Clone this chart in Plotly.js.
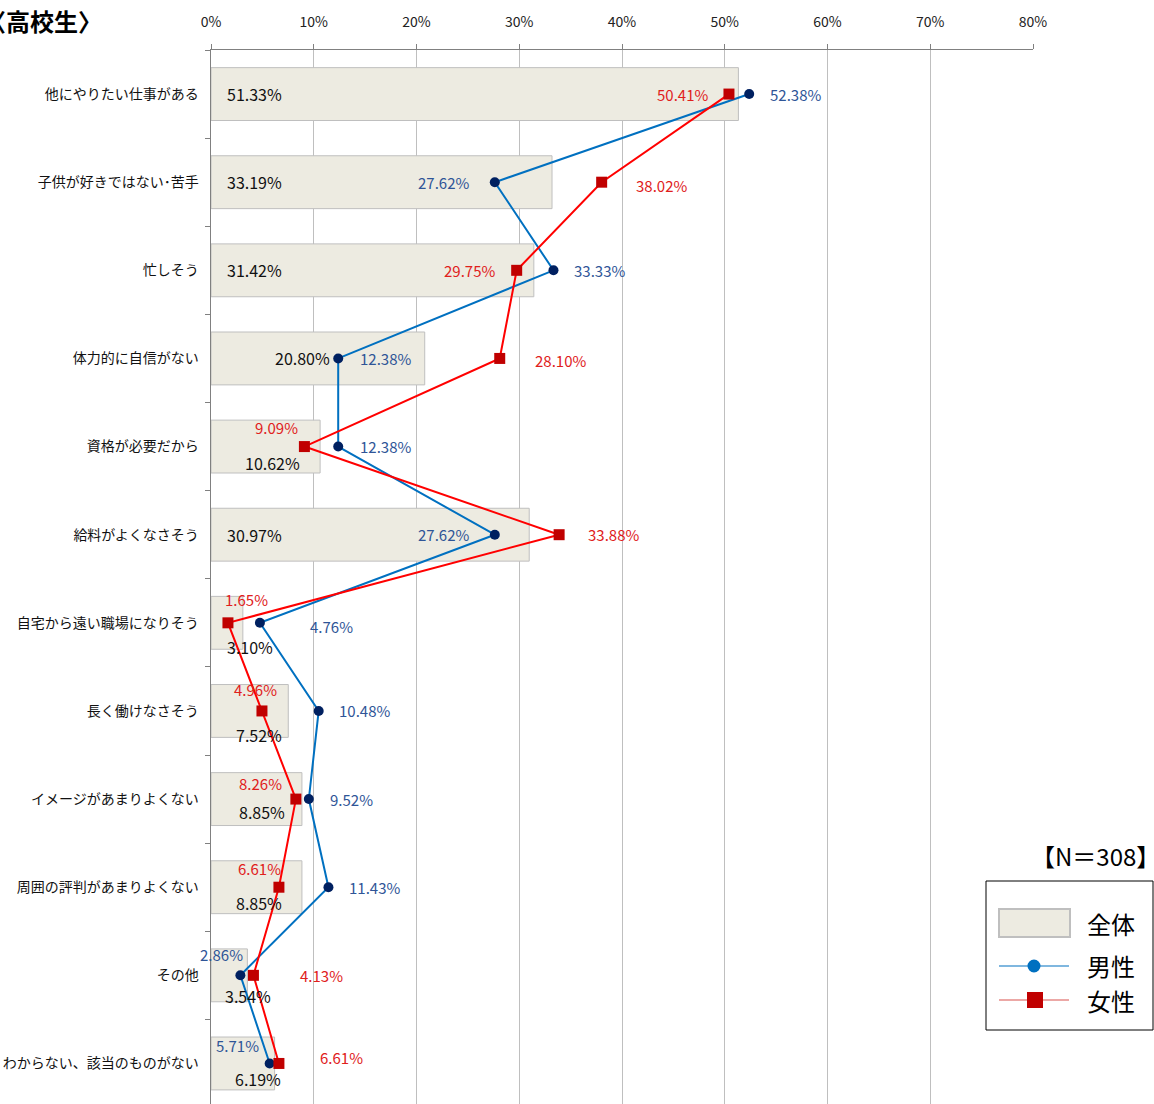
<!DOCTYPE html>
<html><head><meta charset="utf-8">
<script src="https://cdn.plot.ly/plotly-3.0.1.min.js"></script>
<style>html,body{margin:0;padding:0;background:#fff}#chart{width:1154px;height:1104px}</style>
</head><body><div id="chart"></div>
<script>
const categories = ["他にやりたい仕事がある","子供が好きではない･苦手","忙しそう","体力的に自信がない","資格が必要だから","給料がよくなさそう","自宅から遠い職場になりそう","長く働けなさそう","イメージがあまりよくない","周囲の評判があまりよくない","その他","わからない、該当のものがない"];
const totalValues = [51.33,33.19,31.42,20.80,10.62,30.97,3.10,7.52,8.85,8.85,3.54,6.19];
const maleValues  = [52.38,27.62,33.33,12.38,12.38,27.62,4.76,10.48,9.52,11.43,2.86,5.71];
const femaleValues= [50.41,38.02,29.75,28.10,9.09,33.88,1.65,4.96,8.26,6.61,4.13,6.61];
const xTicks = [0,10,20,30,40,50,60,70,80];
const xTickText = xTicks.map(v => v + "%");

// label placement (pixels): [mode, anchor, dx, dy] / [anchor, dx, dy]
const totalLabelPos = [["base","left",14,0],["base","left",14,0],["base","left",14,0],["base","center",91,0],["base","center",61,-16],["base","left",14,0],["base","center",39,-24],["base","center",48,-24],["base","center",51,-13],["base","center",48,-16],["base","center",37,-21],["base","center",47,-16]];
const maleLabelPos = [["left",19,0],["right",-24,0],["left",19,0],["left",20,0],["left",20,0],["right",-24,0],["left",48,-4],["left",18,0],["left",19,0],["left",19,0],["center",-19,21],["center",-32,18]];
const femaleLabelPos = [["right",-19,0],["left",32,-3],["right",-20,0],["left",33,-2],["center",-28,19],["left",27,0],["center",19,23],["center",-6,21],["center",-35,16],["center",-19,19],["left",45,0],["left",39,6]];

const FONT = "Noto Sans CJK JP, Noto Sans, sans-serif";
const fmt = v => v.toFixed(2) + "%";

const traces = [
  {type:"bar", orientation:"h", x: totalValues, y: categories, width:0.6,
   marker:{color:"#EDEBE1", line:{color:"#BFBFBF", width:1}}, name:"全体", hoverinfo:"x+y"},
  {type:"scatter", mode:"lines+markers", x: maleValues, y: categories, name:"男性",
   line:{color:"#0070C0", width:2}, marker:{symbol:"circle", size:10, color:"#002060"}},
  {type:"scatter", mode:"lines+markers", x: femaleValues, y: categories, name:"女性",
   line:{color:"#FF0000", width:2}, marker:{symbol:"square", size:11, color:"#C00000"}}
];

const annotations = [];
categories.forEach((c,i) => {
  const t = totalLabelPos[i];
  annotations.push({x: t[0]==="base"?0:totalValues[i], y:c, xref:"x", yref:"y", text: fmt(totalValues[i]),
    showarrow:false, xanchor:t[1], xshift:t[2], yshift:t[3], font:{family:FONT, size:16, color:"#111"}});
  const m = maleLabelPos[i];
  annotations.push({x: maleValues[i], y:c, xref:"x", yref:"y", text: fmt(maleValues[i]),
    showarrow:false, xanchor:m[0], xshift:m[1], yshift:m[2], font:{family:FONT, size:15, color:"#2F5597"}});
  const f = femaleLabelPos[i];
  annotations.push({x: femaleValues[i], y:c, xref:"x", yref:"y", text: fmt(femaleValues[i]),
    showarrow:false, xanchor:f[0], xshift:f[1], yshift:f[2], font:{family:FONT, size:15, color:"#E0201B"}});
});

// pixel -> paper helpers for layout decorations
const L = 211, R = 1033, T = 50, B = 1104;
const px = x => (x - L) / (R - L);
const py = y => (B - y) / (B - T);

annotations.push({xref:"paper", yref:"paper", x: px(104), y: py(21), xanchor:"right", yanchor:"middle",
  text:"〈高校生〉", showarrow:false, font:{family:FONT, size:24, color:"#000", weight:700}});
annotations.push({xref:"paper", yref:"paper", x: px(1161), y: py(855), xanchor:"right", yanchor:"middle",
  text:"【N＝308】", showarrow:false, borderpad:0, font:{family:FONT, size:24, color:"#000"}});
// legend texts
[["全体",923],["男性",965],["女性",1000]].forEach(([t,y]) => {
  annotations.push({xref:"paper", yref:"paper", x: px(1085), y: py(y), xanchor:"left", yanchor:"middle",
    text:t, showarrow:false, font:{family:FONT, size:24, color:"#000"}});
});

const shapes = [
  {type:"rect", xref:"paper", yref:"paper", x0:px(986), x1:px(1153), y0:py(881), y1:py(1030),
   line:{color:"#000", width:1}, fillcolor:"#fff", layer:"above"},
  {type:"rect", xref:"paper", yref:"paper", x0:px(999), x1:px(1070), y0:py(909), y1:py(937),
   line:{color:"#BFBFBF", width:2}, fillcolor:"#EDEBE1", layer:"above"},
  {type:"line", xref:"paper", yref:"paper", x0:px(999), x1:px(1069), y0:py(966), y1:py(966),
   line:{color:"#0070C0", width:1.2}, layer:"above"},
  {type:"circle", xref:"paper", yref:"paper", x0:px(1027.5), x1:px(1040.5), y0:py(959.5), y1:py(972.5),
   line:{color:"#0070C0", width:0}, fillcolor:"#0070C0", layer:"above"},
  {type:"line", xref:"paper", yref:"paper", x0:px(999), x1:px(1069), y0:py(1000), y1:py(1000),
   line:{color:"#D9534F", width:1.2}, layer:"above"},
  {type:"rect", xref:"paper", yref:"paper", x0:px(1027), x1:px(1043), y0:py(992), y1:py(1008),
   line:{color:"#C00000", width:0}, fillcolor:"#C00000", layer:"above"}
];

const layout = {
  width:1154, height:1104,
  margin:{l:L, r:1154-R, t:T, b:0},
  paper_bgcolor:"#fff", plot_bgcolor:"#fff",
  showlegend:false,
  xaxis:{range:[0,80], side:"top", tickvals:xTicks, ticktext:xTickText,
    showgrid:true, gridcolor:"#BFBFBF", gridwidth:1, zeroline:false,
    showline:true, linecolor:"#808080", linewidth:1.5, ticks:"outside", ticklen:5, tickcolor:"#808080",
    tickfont:{family:FONT, size:14, color:"#222"}, ticklabelstandoff:11, fixedrange:true},
  yaxis:{type:"category", range:[11.46,-0.5], tickson:"boundaries", ticks:"outside", ticklen:5, tickcolor:"#808080",
    showline:true, linecolor:"#808080", linewidth:1.5, showgrid:false, zeroline:false,
    tickfont:{family:FONT, size:14, color:"#111"}, ticklabelstandoff:8},
  annotations, shapes,
  font:{family:FONT}
};

Plotly.newPlot("chart", traces, layout, {displayModeBar:false, staticPlot:true});
</script></body></html>
